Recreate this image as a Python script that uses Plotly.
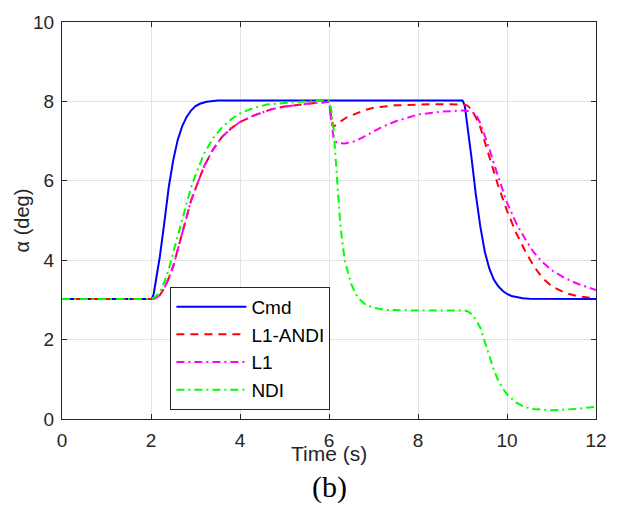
import plotly.graph_objects as go

# Cmd
t_cmd = [0, 2.0, 2.03, 2.06, 2.1, 2.15, 2.2, 2.3, 2.4, 2.5, 2.6, 2.7, 2.8, 2.9, 3.0, 3.1, 3.25, 3.5,
         9.0, 9.05, 9.1, 9.15, 9.2, 9.3, 9.4, 9.5, 9.6, 9.7, 9.8, 9.9, 10.0, 10.1, 10.2, 10.35, 10.5, 12.0]
a_cmd = [3.02, 3.02, 3.05, 3.15, 3.42, 3.75, 4.1, 4.95, 5.85, 6.52, 7.03, 7.37, 7.61, 7.77, 7.88, 7.94, 7.99, 8.02,
         8.02, 7.9, 7.5, 7.05, 6.6, 5.65, 4.85, 4.22, 3.8, 3.52, 3.35, 3.23, 3.15, 3.1, 3.07, 3.04, 3.03, 3.02]

# L1 (magenta)
t_l1 = [0, 2.0, 2.1, 2.2, 2.3, 2.4, 2.5, 2.6, 2.7, 2.8, 2.9, 3.0, 3.2, 3.4, 3.6, 3.8, 4.0, 4.3, 4.7,
        5.0, 5.5, 6.0, 6.05, 6.1, 6.15, 6.2, 6.36, 6.5, 6.6, 6.8, 7.0, 7.2, 7.5, 8.0, 8.5, 9.0, 9.15, 9.3, 9.4,
        9.5, 9.6, 9.7, 9.8, 9.9, 10.0, 10.2, 10.4, 10.6, 10.8, 11.0, 11.3, 11.6, 12.0]
a_l1 = [3.02, 3.02, 3.04, 3.12, 3.3, 3.55, 3.85, 4.27, 4.72, 5.12, 5.5, 5.8, 6.38, 6.8, 7.11, 7.32, 7.48,
        7.64, 7.8, 7.87, 7.94, 7.99, 7.5, 7.1, 6.98, 6.95, 6.94, 6.97, 7.0, 7.12, 7.25, 7.36, 7.5, 7.67, 7.74, 7.77,
        7.76, 7.68, 7.45, 7.15, 6.82, 6.45, 6.1, 5.75, 5.45, 4.95, 4.55, 4.2, 3.95, 3.75, 3.55, 3.4, 3.25]

# L1-ANDI (red)
t_andi = [0, 2.0, 2.1, 2.2, 2.3, 2.4, 2.5, 2.6, 2.7, 2.8, 2.9, 3.0, 3.2, 3.4, 3.6, 3.8, 4.0, 4.3, 4.7,
          5.0, 5.5, 6.0, 6.05, 6.1, 6.2, 6.4, 6.6, 6.8, 7.0, 7.5, 8.0, 8.5, 9.0, 9.1, 9.2, 9.3, 9.4,
          9.5, 9.6, 9.7, 9.8, 9.9, 10.0, 10.2, 10.4, 10.6, 10.8, 11.0, 11.3, 11.6, 12.0]
a_andi = [3.02, 3.02, 3.04, 3.12, 3.3, 3.55, 3.85, 4.27, 4.72, 5.12, 5.5, 5.8, 6.38, 6.8, 7.11, 7.32, 7.48,
          7.64, 7.8, 7.87, 7.94, 7.99, 7.6, 7.36, 7.45, 7.6, 7.7, 7.78, 7.84, 7.9, 7.92, 7.93, 7.92, 7.9,
          7.8, 7.6, 7.35, 7.0, 6.62, 6.25, 5.88, 5.55, 5.25, 4.7, 4.25, 3.85, 3.55, 3.35, 3.18, 3.09, 3.04]

# NDI (green)
t_ndi = [0, 2.0, 2.1, 2.2, 2.3, 2.4, 2.5, 2.6, 2.7, 2.8, 2.9, 3.0, 3.2, 3.4, 3.6, 3.8, 4.0, 4.3, 4.6,
         5.0, 5.5, 6.0, 6.05, 6.1, 6.15, 6.2, 6.25, 6.3, 6.36, 6.45, 6.5, 6.6, 6.7, 6.8, 7.0, 7.25, 8.0, 9.0,
         9.1, 9.2, 9.3, 9.4, 9.5, 9.6, 9.7, 9.8, 9.9, 10.0, 10.2, 10.4, 10.6, 11.0, 11.5, 12.0]
a_ndi = [3.02, 3.02, 3.08, 3.2, 3.45, 3.77, 4.2, 4.62, 5.05, 5.45, 5.83, 6.15, 6.7, 7.08, 7.35, 7.55, 7.7,
         7.83, 7.92, 7.96, 8.0, 8.02, 7.8, 7.36, 6.5, 5.6, 4.95, 4.45, 3.96, 3.6, 3.4, 3.15, 3.0, 2.9, 2.8, 2.75,
         2.73, 2.73, 2.72, 2.65, 2.5, 2.3, 1.95, 1.6, 1.25, 0.98, 0.78, 0.62, 0.42, 0.3, 0.25, 0.22, 0.25, 0.31]

series = [
    ("Cmd", t_cmd, a_cmd, "#0000FF", "solid"),
    ("L1-ANDI", t_andi, a_andi, "#FF0000", "8px,6px"),
    ("L1", t_l1, a_l1, "#FF00FF", "8px,4px,2px,4px"),
    ("NDI", t_ndi, a_ndi, "#00FF00", "8px,4px,2px,4px"),
]

x_ticks = [0, 2, 4, 6, 8, 10, 12]
y_ticks = [0, 2, 4, 6, 8, 10]

fig = go.Figure()
for name, t, a, c, d in series:
    fig.add_trace(go.Scatter(x=t, y=a, name=name, mode="lines", legendgroup=name,
                             line=dict(color=c, width=2, dash=d)))

axis_common = dict(showline=True, linecolor="#262626", linewidth=1, mirror="ticks",
                   ticks="inside", ticklen=5, tickcolor="#262626",
                   showgrid=True, gridcolor="#E3E3E3", gridwidth=1, zeroline=False,
                   tickfont=dict(family="Liberation Sans, Arial", size=19, color="#262626"))

fig.update_layout(
    width=619, height=506,
    margin=dict(l=62, r=20, t=17, b=87),
    paper_bgcolor="white", plot_bgcolor="white",
    xaxis=dict(range=[0, 12], tickvals=x_ticks, ticklabelstandoff=4, **axis_common),
    yaxis=dict(range=[0, 10], tickvals=y_ticks, ticklabelstandoff=3, **axis_common),
    showlegend=True,
    legend=dict(x=0.203, y=0.333, xanchor="left", yanchor="top",
                bgcolor="white", bordercolor="#262626", borderwidth=1,
                font=dict(family="Liberation Sans, Arial", size=19, color="black"),
                tracegroupgap=0, itemwidth=70),
    annotations=[
        dict(text="Time (s)", x=0.5, y=-0.086, xref="paper", yref="paper", showarrow=False,
             xanchor="center", yanchor="middle",
             font=dict(family="Liberation Sans, Arial", size=21, color="#262626")),
        dict(text="(b)", x=0.5, y=-0.172, xref="paper", yref="paper", showarrow=False,
             xanchor="center", yanchor="middle",
             font=dict(family="Liberation Serif, Times New Roman", size=30, color="black")),
        dict(text="α (deg)", x=-0.075, y=0.5, xref="paper", yref="paper", showarrow=False,
             textangle=-90, xanchor="center", yanchor="middle",
             font=dict(family="Liberation Sans, Arial", size=20, color="#262626")),
    ],
)

fig.write_html("out.html")
